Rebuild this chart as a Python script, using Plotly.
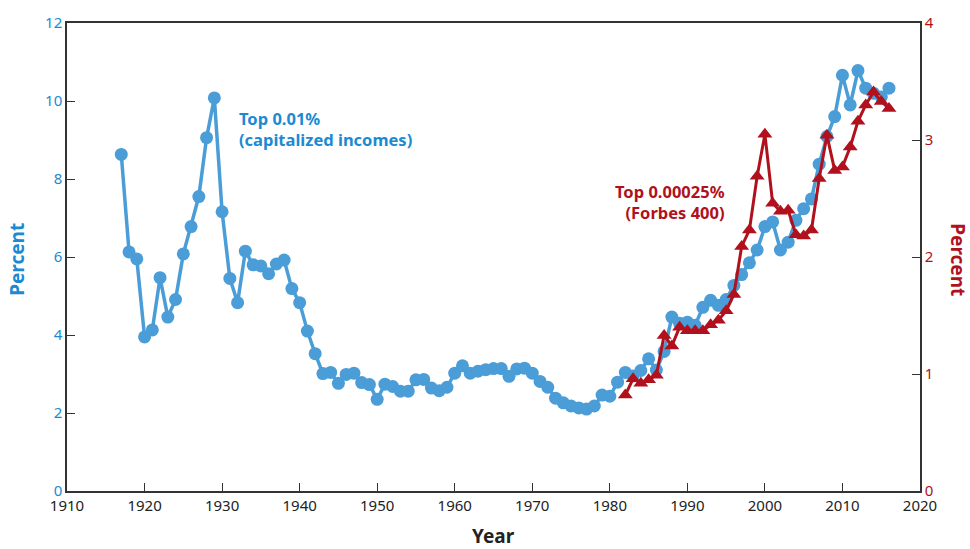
import plotly.graph_objects as go

# ---- data ----
blue_years = list(range(1917, 2017))
blue_values = [
    8.63, 6.13, 5.95, 3.95, 4.13, 5.47, 4.46, 4.91, 6.08, 6.78,   # 1917-1926
    7.55, 9.06, 10.08, 7.16, 5.45, 4.83, 6.15, 5.80, 5.77, 5.57,  # 1927-1936
    5.82, 5.92, 5.19, 4.83, 4.10, 3.52, 3.01, 3.04, 2.76, 2.99,   # 1937-1946
    3.02, 2.78, 2.73, 2.35, 2.74, 2.68, 2.56, 2.56, 2.85, 2.86,   # 1947-1956
    2.64, 2.57, 2.66, 3.02, 3.21, 3.02, 3.07, 3.11, 3.14, 3.14,   # 1957-1966
    2.94, 3.13, 3.15, 3.02, 2.81, 2.66, 2.38, 2.26, 2.18, 2.13,   # 1967-1976
    2.10, 2.18, 2.46, 2.43, 2.79, 3.04, 2.95, 3.09, 3.39, 3.10,   # 1977-1986
    3.58, 4.46, 4.30, 4.33, 4.25, 4.71, 4.89, 4.76, 4.91, 5.27,   # 1987-1996
    5.55, 5.85, 6.18, 6.78, 6.90, 6.18, 6.38, 6.94, 7.24, 7.49,   # 1997-2006
    8.38, 9.09, 9.60, 10.66, 9.90, 10.78, 10.33, 10.20, 10.10, 10.33,  # 2007-2016
]

red_years = list(range(1982, 2017))
red_values = [
    0.82, 0.96, 0.92, 0.95, 0.99, 1.33, 1.24, 1.40, 1.37, 1.37,   # 1982-1991
    1.37, 1.42, 1.46, 1.54, 1.68, 2.09, 2.23, 2.69, 3.05, 2.46,   # 1992-2001
    2.39, 2.40, 2.19, 2.18, 2.23, 2.67, 3.04, 2.74, 2.77, 2.94,   # 2002-2011
    3.16, 3.30, 3.41, 3.33, 3.27,                                 # 2012-2016
]

x_ticks = list(range(1910, 2021, 10))
left_ticks = [0, 2, 4, 6, 8, 10, 12]
right_ticks = [0, 1, 2, 3, 4]

BLUE = "#4A9DD7"
BLUE_TXT = "#1B8AD3"
RED = "#B0111C"
AXIS = "#333333"
FONT = "Noto Sans"

fig = go.Figure()
fig.add_trace(go.Scatter(
    x=blue_years, y=blue_values, mode="lines+markers",
    line=dict(color=BLUE, width=3.5),
    marker=dict(symbol="circle", size=13, color=BLUE),
    yaxis="y", showlegend=False, name="Top 0.01%",
))
fig.add_trace(go.Scatter(
    x=red_years, y=red_values, mode="lines+markers",
    line=dict(color=RED, width=3),
    marker=dict(symbol="triangle-up", size=13, color=RED),
    yaxis="y2", showlegend=False, name="Forbes 400",
))

fig.update_layout(
    width=970, height=549,
    margin=dict(l=67, r=50, t=12, b=58),
    plot_bgcolor="white", paper_bgcolor="white",
    font=dict(family=FONT, size=15, color="#222222"),
    xaxis=dict(
        range=[1910, 2020], tickvals=x_ticks, ticktext=[str(t) for t in x_ticks],
        showline=True, linecolor=AXIS, linewidth=1.5, mirror=True,
        ticks="inside", ticklen=8, tickcolor=AXIS, tickwidth=1,
        showgrid=False, zeroline=False,
        tickfont=dict(family=FONT, size=15, color="#222222"),
    ),
    yaxis=dict(
        range=[0, 12], tickvals=left_ticks,
        showline=True, linecolor=AXIS, linewidth=1.5,
        ticks="inside", ticklen=8, tickcolor=AXIS, tickwidth=1,
        showgrid=False, zeroline=False,
        tickfont=dict(family=FONT, size=15, color=BLUE_TXT),
    ),
    yaxis2=dict(
        range=[0, 4], tickvals=right_ticks, overlaying="y", side="right",
        showline=True, linecolor=AXIS, linewidth=1.5,
        ticks="inside", ticklen=8, tickcolor=AXIS, tickwidth=1,
        showgrid=False, zeroline=False,
        tickfont=dict(family=FONT, size=15, color=RED),
    ),
    annotations=[
        dict(text="<b>Top 0.01%<br>(capitalized incomes)</b>", x=1931.9, y=9.27,
             xref="x", yref="y", xanchor="left", yanchor="middle", align="left",
             showarrow=False, font=dict(family=FONT, size=16.5, color=BLUE_TXT)),
        dict(text="<b>Top 0.00025%<br>(Forbes 400)</b>", x=1995.1, y=7.42,
             xref="x", yref="y", xanchor="right", yanchor="middle", align="right",
             showarrow=False, font=dict(family=FONT, size=16.5, color=RED)),
        dict(text="<b>Percent</b>", x=-0.058, y=0.495, xref="paper", yref="paper",
             textangle=-90, showarrow=False, xanchor="center", yanchor="middle",
             font=dict(family=FONT, size=19, color=BLUE_TXT)),
        dict(text="<b>Percent</b>", x=1.0446, y=0.495, xref="paper", yref="paper",
             textangle=90, showarrow=False, xanchor="center", yanchor="middle",
             font=dict(family=FONT, size=19, color=RED)),
        dict(text="<b>Year</b>", x=0.5, y=-0.097, xref="paper", yref="paper",
             showarrow=False, xanchor="center", yanchor="middle",
             font=dict(family=FONT, size=19, color="#222222")),
    ],
)

fig.write_html(
    "out.html",
    config={"responsive": False, "displayModeBar": False},
    post_script="document.body.style.margin='0';document.body.style.overflow='hidden';",
)
